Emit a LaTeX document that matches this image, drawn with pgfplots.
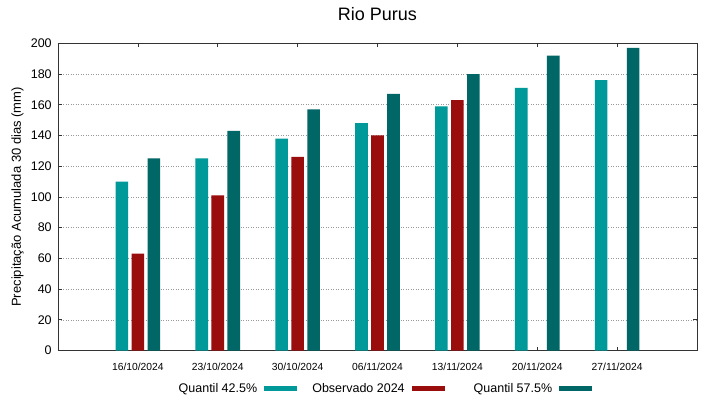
\documentclass[border=0pt]{standalone}
\usepackage{fontspec}
\setmainfont{Liberation Sans}
\usepackage{pgfplots}
\pgfplotsset{compat=1.18}
\definecolor{qa}{RGB}{0,153,153}
\definecolor{obs}{RGB}{153,13,13}
\definecolor{qb}{RGB}{0,102,102}
\begin{document}
\begin{tikzpicture}
\useasboundingbox[fill=white] (0,0) rectangle (719pt,399pt);
\begin{axis}[
 at={(58pt,48.5pt)}, anchor=south west,
 scale only axis, width=639pt, height=307.2pt,
 xmin=-1, xmax=7, ymin=0, ymax=200,
 xtick={0,...,6},
 xticklabels={16/10/2024,23/10/2024,30/10/2024,06/11/2024,13/11/2024,20/11/2024,27/11/2024},
 ytick={0,20,...,200},
 ymajorgrids, grid style={gray!80, dash pattern=on 1pt off 1.5pt, line width=0.5pt},
 major tick length=4pt,
 tick style={black!80, line width=0.6pt},
 axis line style={black!80, line width=0.8pt},
 /pgf/number format/assume math mode=true,
 yticklabel style={font=\fontsize{12.5}{14}\selectfont, xshift=-2.8pt},
 xticklabel style={font=\fontsize{10.3}{12}\selectfont, yshift=-9pt},
 title={Rio Purus},
 title style={font=\fontsize{18}{20}\selectfont, at={(0.5,1)}, anchor=base, yshift=16.3pt},
 ylabel={Precipitação Acumulada 30 dias (mm)},
 ylabel style={font=\fontsize{13}{15}\selectfont, at={(axis description cs:-0.0634,0.5)}, anchor=center},
 legend columns=3, legend plot pos=right,
 legend style={draw=none, fill=none, inner sep=0pt, font=\fontsize{12.5}{14}\selectfont,
   at={(axis description cs:0.1612,-0.1238)}, anchor=west,
   /tikz/every odd column/.append style={column sep=5pt},
   /tikz/every even column/.append style={column sep=11.5pt}},
 legend image code/.code={\fill[#1] (0pt,-2.3pt) rectangle (33pt,2.3pt);},
]
\addplot[ybar, bar width=12.7pt, bar shift=-16pt, fill=qa, draw=none]
 coordinates {(0,110) (1,125) (2,138) (3,148) (4,159) (5,171) (6,176)};
\addlegendentry{\makebox[94pt][r]{Quantil 42.5\%}}
\addplot[ybar, bar width=12.7pt, bar shift=0pt, fill=obs, draw=none]
 coordinates {(0,63) (1,101) (2,126) (3,140) (4,163)};
\addlegendentry{\makebox[94pt][r]{Observado 2024}}
\addplot[ybar, bar width=12.7pt, bar shift=16pt, fill=qb, draw=none]
 coordinates {(0,125) (1,143) (2,157) (3,167) (4,180) (5,192) (6,197)};
\addlegendentry{\makebox[94pt][r]{Quantil 57.5\%}}
\end{axis}
\end{tikzpicture}
\end{document}
